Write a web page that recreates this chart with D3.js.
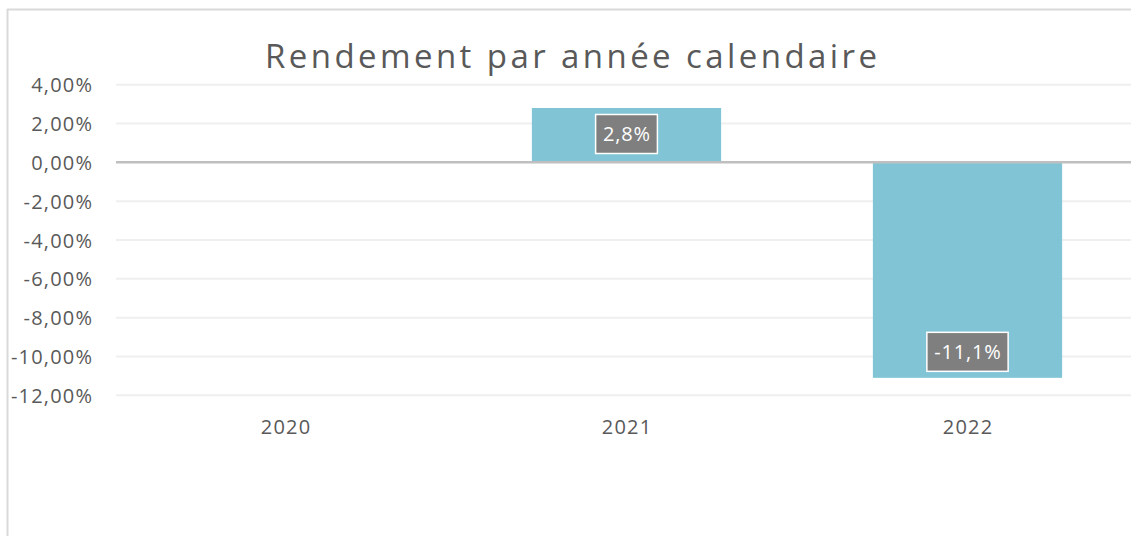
<!DOCTYPE html>
<html><head><meta charset="utf-8">
<script src="https://cdn.jsdelivr.net/npm/d3@7"></script>
<style>
html,body{margin:0;padding:0;background:#fff;overflow:hidden}
svg{display:block}
text{font-family:"Open Sans","Noto Sans",sans-serif}
</style></head>
<body>
<script>
const title = "Rendement par année calendaire";
const categories = ["2020", "2021", "2022"];
const values = [null, 2.8, -11.1];
const labels = ["", "2,8%", "-11,1%"];
const yTicks = [4, 2, 0, -2, -4, -6, -8, -10, -12];

const W = 1131, H = 536;
const svg = d3.select("body").append("svg").attr("width", W).attr("height", H);

// frame
svg.append("line").attr("x1", 7).attr("x2", W).attr("y1", 9.5).attr("y2", 9.5)
  .attr("stroke", "#d9d9d9").attr("stroke-width", 2);
svg.append("line").attr("x1", 7.5).attr("x2", 7.5).attr("y1", 9).attr("y2", H)
  .attr("stroke", "#d9d9d9").attr("stroke-width", 2);

const x = d3.scaleBand().domain(categories).range([115, 1138]).paddingInner(0.445).paddingOuter(0.2225);
const y = d3.scaleLinear().domain([-12, 4]).range([395.3, 84.7]);

// gridlines
svg.append("g").selectAll("line").data(yTicks.filter(d => d !== 0)).join("line")
  .attr("x1", 116).attr("x2", W).attr("y1", d => y(d)).attr("y2", d => y(d))
  .attr("stroke", "#efefef").attr("stroke-width", 2);

// y axis labels
const yAxis = d3.axisLeft(y).tickValues(yTicks).tickSize(0).tickPadding(0)
  .tickFormat(d => d3.format(".2f")(d).replace("−", "-").replace(".", ",") + "%");
const gy = svg.append("g").attr("transform", "translate(93.2,0)").call(yAxis);
gy.select(".domain").remove();
gy.selectAll("text").attr("fill", "#595959").attr("font-size", 20).attr("dy", "0.35em")
  .attr("letter-spacing", 1.2);

// bars
svg.append("g").selectAll("rect").data(categories.map((c, i) => ({c, v: values[i], l: labels[i]})).filter(d => d.v !== null))
  .join("rect")
  .attr("x", d => x(d.c)).attr("width", x.bandwidth())
  .attr("y", d => y(Math.max(0, d.v))).attr("height", d => Math.abs(y(d.v) - y(0)))
  .attr("fill", "#80c4d6");

// zero line
svg.append("line").attr("x1", 116).attr("x2", W).attr("y1", y(0)).attr("y2", y(0))
  .attr("stroke", "#bfbfbf").attr("stroke-width", 2.5);

// x axis labels
const xAxis = d3.axisBottom(x).tickSize(0).tickPadding(0);
const gx = svg.append("g").attr("transform", "translate(0.6,427)").call(xAxis);
gx.select(".domain").remove();
gx.selectAll("text").attr("fill", "#595959").attr("font-size", 20).attr("dy", "0.35em")
  .attr("letter-spacing", 1.2);

// data labels
const lg = svg.append("g").selectAll("g").data(categories.map((c, i) => ({c, v: values[i], l: labels[i]})).filter(d => d.v !== null))
  .join("g")
  .attr("transform", d => {
    const cx = x(d.c) + x.bandwidth() / 2;
    const cy = d.v >= 0 ? y(d.v) + 26 : y(d.v) - 26;
    return `translate(${cx},${cy})`;
  });
lg.each(function(d) {
  const g = d3.select(this);
  const t = g.append("text").text(d.l).attr("text-anchor", "middle").attr("dy", "0.35em")
    .attr("fill", "#ffffff").attr("font-size", 20).attr("letter-spacing", 0.8).attr("x", 0.4);
  const w = t.node().getComputedTextLength() + 14;
  g.insert("rect", "text").attr("x", -w / 2).attr("y", -19.5).attr("width", w).attr("height", 39)
    .attr("fill", "#7f7f7f").attr("stroke", "#ffffff").attr("stroke-width", 1.5);
});

// title
const tt = svg.append("text").text(title).attr("x", 571).attr("y", 68)
  .attr("text-anchor", "middle").attr("fill", "#595959").attr("font-size", 33);
const tw = tt.node().getComputedTextLength();
const ls = (612 - tw) / (title.length - 1);
tt.attr("letter-spacing", ls);
tt.attr("x", 571 + ls / 2);
</script>
</body></html>
